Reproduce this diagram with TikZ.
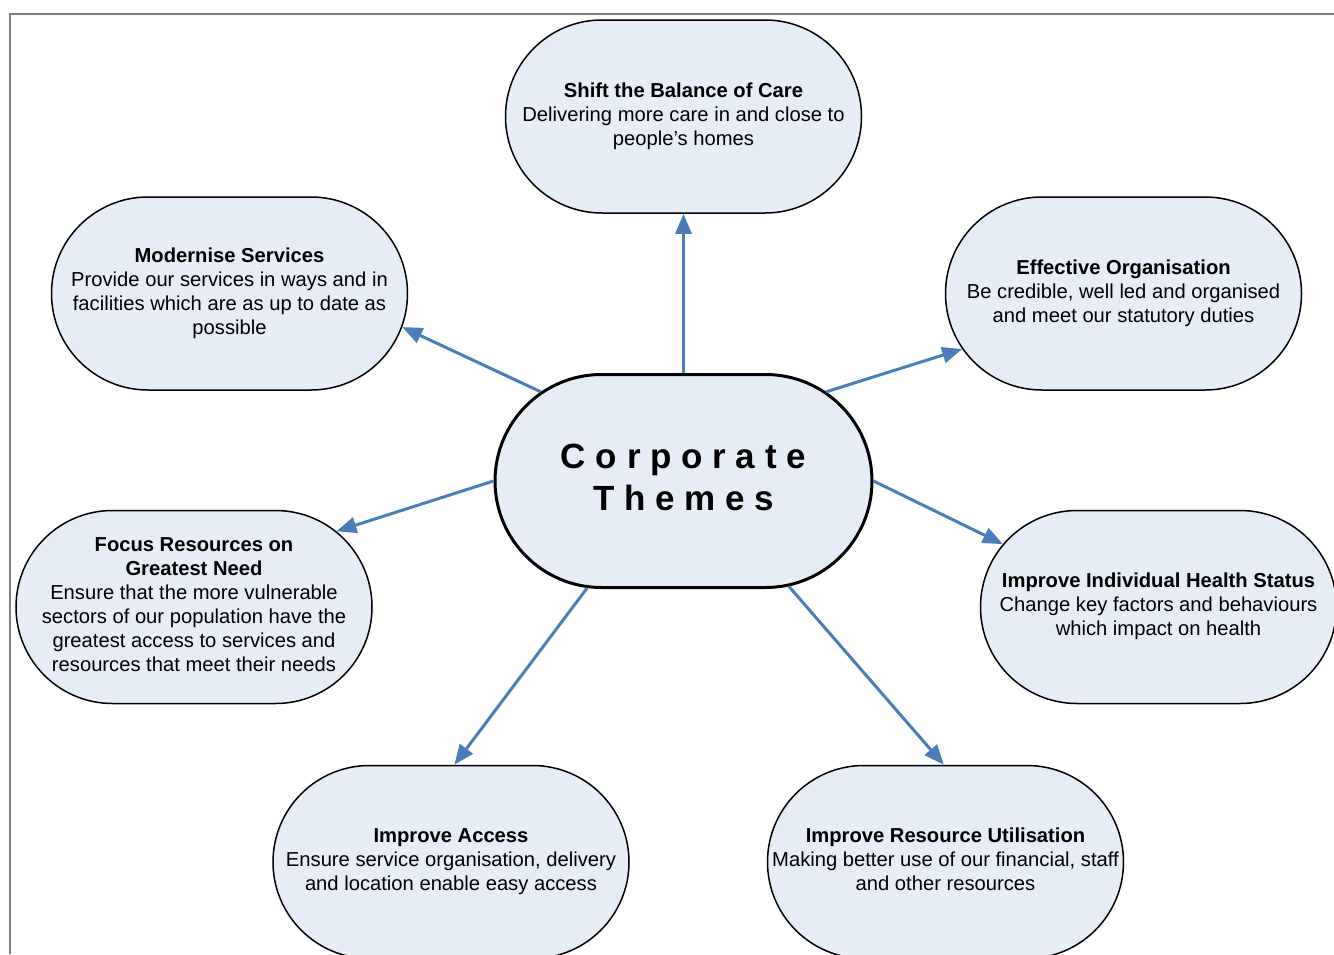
\documentclass[tikz,border=0pt]{standalone}
\usepackage{fontspec}
\setmainfont{Liberation Sans}
\usetikzlibrary{positioning, shapes.misc, arrows.meta}
\definecolor{themefill}{HTML}{E6EDF7}
\definecolor{linkblue}{HTML}{4A7EBB}
\definecolor{framegray}{HTML}{808080}
% text lines that do not widen the node
\newcommand{\themetext}[1]{\makebox[0pt]{\begin{tabular}{@{}c@{}}#1\end{tabular}}}

\begin{document}
\begin{tikzpicture}[x=0.5pt, y=-0.5pt,
		theme/.style={draw, rounded rectangle, minimum width=178pt, minimum height=96.5pt, inner xsep=0pt, inner ysep=1pt, fill=themefill, line width=0.75pt, font=\fontsize{10.1}{12}\selectfont},
		hub/.style={theme, minimum width=188.5pt, minimum height=106.5pt, line width=1.5pt, font=\fontsize{17.5}{21}\selectfont\bfseries},
		link/.style={-{Triangle[length=10pt, width=8pt]}, draw=linkblue, line width=1.5pt}]
		\useasboundingbox (0,0) rectangle (1334,954);
		\draw[framegray, line width=1pt] (10,954) -- (10,14) -- (1334,14);
		% themes round the hub
		\node[theme] (shift) at (683.5,116.5) {\themetext{\textbf{Shift the Balance of Care}\\Delivering more care in and close to\\people’s homes}};
		\node[theme] (modern) at (229.5,293.5) {\themetext{\textbf{Modernise Services}\\Provide our services in ways and in\\facilities which are as up to date as\\possible}};
		\node[theme] (effect) at (1123.5,293.5) {\themetext{\textbf{Effective Organisation}\\Be credible, well led and organised\\and meet our statutory duties}};
		\node[hub] (corp) at (683.5,481) {\themetext{C o r p o r a t e\\T h e m e s}};
		\node[theme] (focus) at (194,607) {\themetext{\textbf{Focus Resources on}\\\textbf{Greatest Need}\\Ensure that the more vulnerable\\sectors of our population have the\\greatest access to services and\\resources that meet their needs}};
		\node[theme] (health) at (1158.5,607) {\themetext{\textbf{Improve Individual Health Status}\\Change key factors and behaviours\\which impact on health}};
		\node[theme] (access) at (451,862) {\themetext{\textbf{Improve Access}\\Ensure service organisation, delivery\\and location enable easy access}};
		\node[theme] (resource) at (945.5,862) {\themetext{\textbf{Improve Resource Utilisation}\\Making better use of our financial, staff\\and other resources}};
		% links
		\draw[link] (corp.north) -- (shift.south);
		\draw[link] (corp.148) -- (modern.349);
		\draw[link] (corp.32) -- (effect.199);
		\draw[link] (corp.west) -- (focus.28);
		\draw[link] (corp.east) -- (health.158);
		\draw[link] (corp.228) -- (access.88);
		\draw[link] (corp.315) -- (resource.91);
	\end{tikzpicture}
\end{document}
